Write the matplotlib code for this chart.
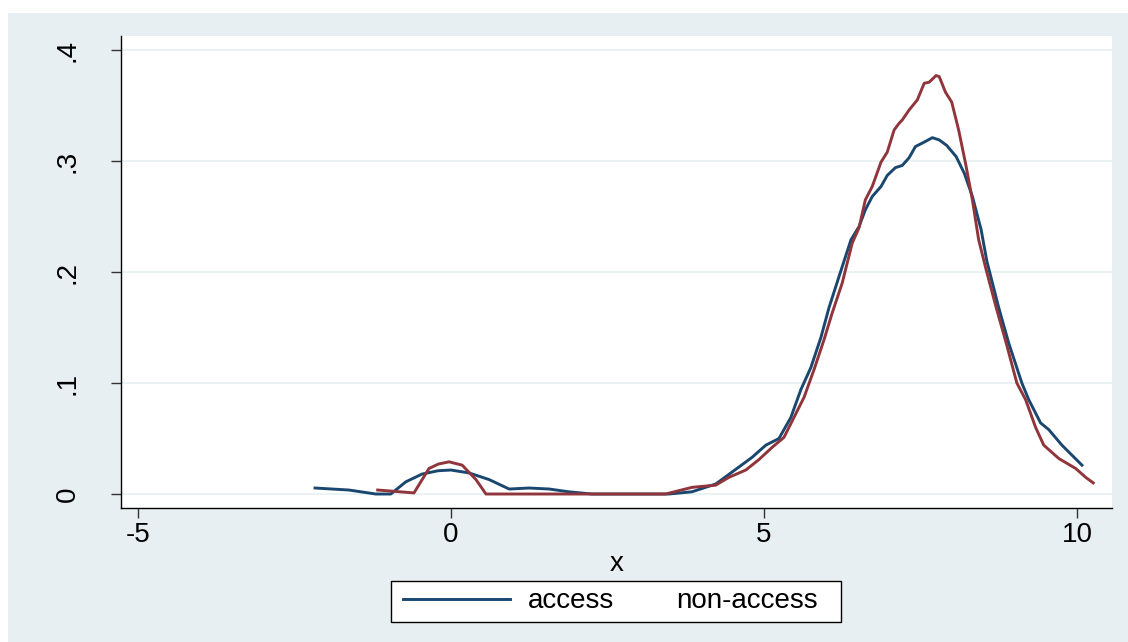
import matplotlib
matplotlib.use("Agg")
import matplotlib.pyplot as plt
from matplotlib.patches import Rectangle

plt.rcParams['font.family'] = ['Liberation Sans', 'DejaVu Sans']
plt.rcParams['axes.unicode_minus'] = False

# kernel density estimates, read off per group
access_x = [-2.17, -1.63, -1.2, -0.96, -0.72, -0.46, -0.2, 0.0, 0.29, 0.61, 0.93, 1.25, 1.57,
            1.88, 2.25, 3.48, 3.85, 4.23, 4.6, 4.81, 5.03, 5.24, 5.43, 5.59, 5.75, 5.91, 6.04,
            6.2, 6.39, 6.52, 6.62, 6.73, 6.87, 6.97, 7.1, 7.21, 7.32, 7.42, 7.56, 7.69, 7.8,
            7.92, 8.07, 8.2, 8.33, 8.47, 8.56, 8.75, 8.91, 9.12, 9.23, 9.42, 9.55, 9.76, 10.08]
access_y = [0.0054, 0.0036, 0.0, 0.0, 0.011, 0.018, 0.021, 0.0216, 0.019, 0.013, 0.0045, 0.0054,
            0.0045, 0.002, 0.0, 0.0, 0.002, 0.009, 0.0243, 0.033, 0.044, 0.050, 0.069, 0.094,
            0.114, 0.141, 0.168, 0.196, 0.229, 0.241, 0.256, 0.268, 0.277, 0.287, 0.294, 0.296,
            0.303, 0.313, 0.317, 0.321, 0.319, 0.314, 0.304, 0.289, 0.268, 0.238, 0.21, 0.168,
            0.136, 0.1, 0.085, 0.064, 0.058, 0.044, 0.026]

nonaccess_x = [-1.17, -0.59, -0.35, -0.2, -0.03, 0.18, 0.4, 0.56, 3.43, 3.85, 4.23, 4.44, 4.71,
               4.92, 5.13, 5.32, 5.48, 5.64, 5.8, 5.96, 6.09, 6.25, 6.41, 6.52, 6.62, 6.73, 6.87,
               6.97, 7.08, 7.16, 7.21, 7.32, 7.45, 7.56, 7.64, 7.75, 7.8, 7.9, 8.0, 8.11, 8.22,
               8.33, 8.43, 8.55, 8.71, 8.87, 9.04, 9.18, 9.34, 9.47, 9.71, 9.98, 10.14, 10.26]
nonaccess_y = [0.0036, 0.001, 0.023, 0.027, 0.029, 0.026, 0.013, 0.0, 0.0, 0.006, 0.008, 0.015,
               0.0216, 0.031, 0.042, 0.051, 0.069, 0.087, 0.112, 0.139, 0.163, 0.19, 0.226, 0.240,
               0.265, 0.277, 0.299, 0.308, 0.328, 0.334, 0.337, 0.346, 0.355, 0.370, 0.371, 0.377,
               0.376, 0.362, 0.353, 0.328, 0.298, 0.265, 0.229, 0.202, 0.168, 0.136, 0.1, 0.085,
               0.060, 0.044, 0.032, 0.023, 0.015, 0.010]

x_ticks = [-5, 0, 5, 10]
y_ticks = [0, 0.1, 0.2, 0.3, 0.4]
y_labels = ["0", ".1", ".2", ".3", ".4"]
labels = ["access", "non-access"]

W, H = 1128, 642
fs = 20
fig = plt.figure(figsize=(W / 100, H / 100), dpi=100)
fig.patch.set_facecolor("white")

# stata-style graph region behind everything
bg = "#e8eff2"
fig.patches.append(Rectangle((8 / W, 0), 1 - 8 / W, (H - 13) / H,
                             transform=fig.transFigure, facecolor=bg, edgecolor="none", zorder=-5))

ax = fig.add_axes([121 / W, (H - 508) / H, (1112 - 121) / W, (508 - 36) / H])
ax.set_facecolor("white")

blue = "#1a476f"
red = "#90353b"
l1, = ax.plot(access_x, access_y, color=blue, lw=2.1, label=labels[0], zorder=3)
l2, = ax.plot(nonaccess_x, nonaccess_y, color=red, lw=2.1, label=labels[1], zorder=3)

ax.set_xlim(-5.27, 10.56)
ax.set_ylim(-0.0126, 0.4126)
ax.set_xticks(x_ticks)
ax.set_yticks(y_ticks)
ax.set_yticklabels(y_labels, rotation=90, va="center")
ax.grid(axis="y", color="#eaf2f3", lw=1.4, zorder=1)
ax.set_axisbelow(True)

for s in ["top", "right"]:
    ax.spines[s].set_visible(False)
for s in ["left", "bottom"]:
    ax.spines[s].set_color("black")
    ax.spines[s].set_linewidth(1.0)

ax.tick_params(axis="both", direction="out", length=7, width=1, color="#333333",
               labelsize=fs)
ax.tick_params(axis="y", pad=22)
ax.tick_params(axis="x", pad=3)
ax.set_xlabel("x", fontsize=fs, labelpad=2)

# legend box drawn separately so its padding can be set per side
fig.patches.append(Rectangle((391 / W, 1 - 622 / H), (841 - 391) / W, (622 - 581) / H,
                             transform=fig.transFigure, facecolor="white",
                             edgecolor="black", lw=1.0, zorder=1))
leg = fig.legend(handles=[l1, l2], labels=labels, ncol=2, loc="center left",
                 bbox_to_anchor=(403 / W, 1 - 601.5 / H),
                 fontsize=fs, frameon=False,
                 handlelength=3.85, handletextpad=0.65, columnspacing=-2.27,
                 borderpad=0, borderaxespad=0)
leg.set_zorder(2)
leg.legend_handles[1].set_visible(False)

fig.savefig("out.png", dpi=100)
